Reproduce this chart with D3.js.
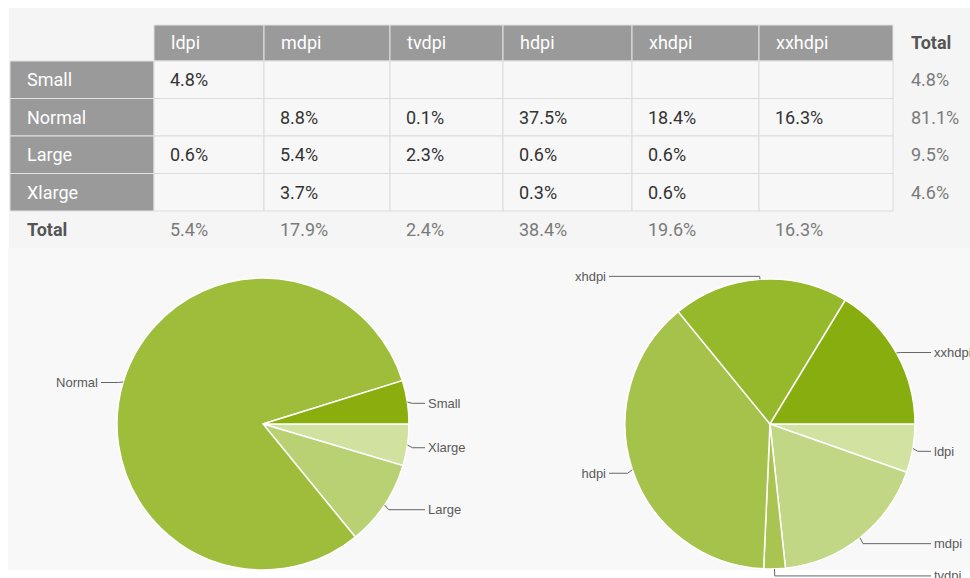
<!DOCTYPE html>
<html>
<head>
<meta charset="utf-8">
<script src="https://cdn.jsdelivr.net/npm/d3@7"></script>
<style>
  body { margin: 0; background: #fff; }
  .cell-txt { font-family: Roboto, "Noto Sans", sans-serif; font-size: 18px; }
  .pie-lbl { font-family: "Liberation Sans", Arial, sans-serif; font-size: 13px; fill: #5a5a5a; }
</style>
</head>
<body>
<div id="chart"></div>
<script>
// screen size x density, share of devices (%)
const densities = ['ldpi', 'mdpi', 'tvdpi', 'hdpi', 'xhdpi', 'xxhdpi'];
const sizes = ['Small', 'Normal', 'Large', 'Xlarge'];
const small  = [4.8, null, null, null, null, null];
const normal = [null, 8.8, 0.1, 37.5, 18.4, 16.3];
const large  = [0.6, 5.4, 2.3, 0.6, 0.6, null];
const xlarge = [null, 3.7, null, 0.3, 0.6, null];
const matrix = [small, normal, large, xlarge];

const sizeColors = ['#89ae0d', '#9ebe3b', '#b8d172', '#d0e1a0'];
const densityColors = ['#d1e2a1', '#c1d786', '#a9c451', '#a5c24a', '#96b82b', '#87ae0e'];

const W = 970, H = 578;
const fmt = d3.format('.1f');

const rowTotals = matrix.map(r => d3.sum(r));
const colTotals = densities.map((d, i) => d3.sum(matrix, r => r[i]));

const svg = d3.select('#chart').append('svg')
  .attr('width', W).attr('height', H);

// panels
svg.append('rect').attr('x', 9).attr('y', 8).attr('width', W - 9).attr('height', 240).style('fill', '#f5f5f5');
svg.append('rect').attr('x', 8).attr('y', 248).attr('width', W - 8).attr('height', 322).style('fill', '#f8f8f8');

// ---- table
const colWidths = [144, 110, 126, 113, 129, 127, 134];
const colEdges = [10, ...d3.cumsum(colWidths).map(v => v + 10)];
const xCol = d3.scaleOrdinal().domain(['label', ...densities]).range(colEdges.slice(0, -1));
const colW = d3.scaleOrdinal().domain(['label', ...densities]).range(colWidths);
const yRow = d3.scaleBand().domain(sizes).range([61, 211]);
const headTop = 25;
const tableRight = colEdges[colEdges.length - 1];
const totalX = tableRight + 18;

const table = svg.append('g');

// header cells
table.selectAll('.hd').data(densities).join('rect')
  .attr('x', d => xCol(d)).attr('y', headTop)
  .attr('width', d => colW(d)).attr('height', yRow.range()[0] - headTop)
  .style('fill', '#9a9a9a').style('stroke', '#e2e2e2');
table.selectAll('.hdt').data(densities).join('text').attr('class', 'cell-txt')
  .attr('x', d => xCol(d) + 17).attr('y', headTop + 24)
  .style('fill', '#fff').text(d => d);

// row label cells
table.selectAll('.rl').data(sizes).join('rect')
  .attr('x', xCol('label')).attr('y', d => yRow(d))
  .attr('width', colW('label')).attr('height', yRow.bandwidth())
  .style('fill', '#9a9a9a').style('stroke', '#e2e2e2');
table.selectAll('.rlt').data(sizes).join('text').attr('class', 'cell-txt')
  .attr('x', xCol('label') + 17).attr('y', d => yRow(d) + yRow.bandwidth() / 2 + 6.5)
  .style('fill', '#fff').text(d => d);

// data cells
const cells = [];
sizes.forEach((s, ri) => densities.forEach((d, ci) => cells.push({s, d, v: matrix[ri][ci]})));
table.selectAll('.dc').data(cells).join('rect')
  .attr('x', c => xCol(c.d)).attr('y', c => yRow(c.s))
  .attr('width', c => colW(c.d)).attr('height', yRow.bandwidth())
  .style('fill', '#f7f7f7').style('stroke', '#dcdcdc');
table.selectAll('.dct').data(cells.filter(c => c.v != null)).join('text').attr('class', 'cell-txt')
  .attr('x', c => xCol(c.d) + 16).attr('y', c => yRow(c.s) + yRow.bandwidth() / 2 + 6.5)
  .style('fill', '#333').text(c => fmt(c.v) + '%');

// totals
const totY = yRow.range()[1] + 25;
table.append('text').attr('class', 'cell-txt')
  .attr('x', xCol('label') + 17).attr('y', totY)
  .style('fill', '#555').style('font-weight', 'bold').text('Total');
table.selectAll('.ct').data(densities).join('text').attr('class', 'cell-txt')
  .attr('x', d => xCol(d) + 16).attr('y', totY)
  .style('fill', '#7a7a7a').text((d, i) => fmt(colTotals[i]) + '%');
table.append('text').attr('class', 'cell-txt')
  .attr('x', totalX).attr('y', headTop + 24)
  .style('fill', '#555').style('font-weight', 'bold').text('Total');
table.selectAll('.rt').data(sizes).join('text').attr('class', 'cell-txt')
  .attr('x', totalX).attr('y', d => yRow(d) + yRow.bandwidth() / 2 + 6.5)
  .style('fill', '#7a7a7a').text((d, i) => fmt(rowTotals[i]) + '%');

// ---- pies
function drawPie(cx, cy, r, names, values, colors) {
  const items = names.map((n, i) => ({n, v: values[i], c: colors[i]}));
  const pie = d3.pie().value(d => d.v).sort(null)
    .startAngle(Math.PI / 2).endAngle(Math.PI / 2 + 2 * Math.PI);
  const arcs = pie(items);
  const arc = d3.arc().innerRadius(0).outerRadius(r);
  const g = svg.append('g').attr('transform', `translate(${cx},${cy})`);
  g.selectAll('path').data(arcs).join('path')
    .attr('d', arc)
    .style('fill', d => d.data.c)
    .style('stroke', '#fff').style('stroke-width', 1.5);

  arcs.forEach(a => {
    const m = (a.startAngle + a.endAngle) / 2;
    const ax = r * Math.sin(m), ay = -r * Math.cos(m);
    const ex = (r + 5) * Math.sin(m), ey = -(r + 5) * Math.cos(m) + 2;
    const right = Math.sin(m) > 0;
    const lx = right ? r + 16 : -(r + 16);
    g.append('path')
      .attr('d', `M${ax},${ay}L${ex},${ey}L${lx},${ey}`)
      .style('fill', 'none').style('stroke', '#666').style('stroke-width', 1);
    g.append('text').attr('class', 'pie-lbl')
      .attr('x', right ? r + 19 : -(r + 19)).attr('y', ey + 4.5)
      .attr('text-anchor', right ? 'start' : 'end')
      .text(a.data.n);
  });
}

// screen size pie, clockwise from 3 o'clock: Xlarge, Large, Normal, Small
drawPie(263, 424, 146, sizes.slice().reverse(), rowTotals.slice().reverse(), sizeColors.slice().reverse());
// density pie, clockwise from 3 o'clock: ldpi ... xxhdpi
drawPie(770, 424, 145, densities, colTotals, densityColors);
</script>
</body>
</html>
